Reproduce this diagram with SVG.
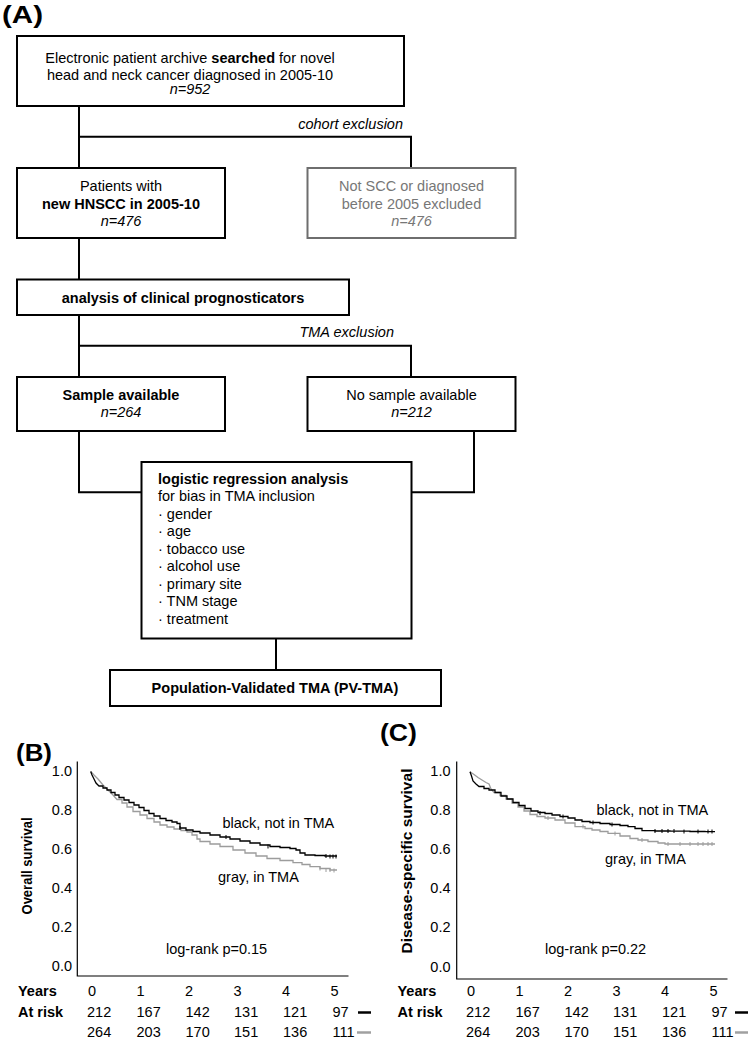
<svg xmlns="http://www.w3.org/2000/svg" width="749" height="1041" viewBox="0 0 749 1041">
<style>
text{font-family:"Liberation Sans",Arial,Helvetica,sans-serif;fill:#000}
.t{font-size:14.5px}
.c{text-anchor:middle}
.b{font-weight:bold}
.i{font-style:italic}
.g{fill:#777}
.box{fill:#fff;stroke:#000;stroke-width:2}
.gbox{fill:#fff;stroke:#6e6e6e;stroke-width:2}
.con{fill:none;stroke:#000;stroke-width:2}
.panel{font-size:24px;font-weight:bold}
.ax{fill:none;stroke:#000;stroke-width:1.2}
.tick{font-size:14.5px;text-anchor:end}
.num{font-size:14.5px}
.kb{fill:none;stroke:#000;stroke-width:1.3}
.kg{fill:none;stroke:#9c9c9c;stroke-width:1.3}
.cb{stroke:#000;stroke-width:1}
.cg{stroke:#9c9c9c;stroke-width:1}
</style>

<text x="2" y="23" class="panel" textLength="41" lengthAdjust="spacingAndGlyphs">(A)</text>

<g id="connectors">
  <path class="con" d="M79,106 V168 M79,136.7 H411 V168"/>
  <path class="con" d="M79,238 V279.5"/>
  <path class="con" d="M79,315 V377 M79,345.7 H411 V377"/>
  <path class="con" d="M79,431 V492.3 H141.5"/>
  <path class="con" d="M474,431 V492.3 H411.5"/>
  <path class="con" d="M276,638.5 V670"/>
  <text x="403" y="129" class="t i" text-anchor="end">cohort exclusion</text>
  <text x="394" y="337" class="t i" text-anchor="end">TMA exclusion</text>
</g>

<g id="node-archive">
  <rect class="box" x="17" y="36" width="387" height="70"/>
  <text x="190" y="62.5" class="t c">Electronic patient archive <tspan class="b">searched</tspan> for novel</text>
  <text x="190" y="79.5" class="t c">head and neck cancer diagnosed in 2005-10</text>
  <text x="190" y="94" class="t c i">n=952</text>
</g>

<g id="node-hnscc">
  <rect class="box" x="17" y="168" width="208" height="70"/>
  <text x="121" y="191" class="t c">Patients with</text>
  <text x="121" y="208.5" class="t c b">new HNSCC in 2005-10</text>
  <text x="121" y="226" class="t c i">n=476</text>
</g>

<g id="node-excluded">
  <rect class="gbox" x="307.5" y="168" width="208" height="70"/>
  <text x="411.5" y="191" class="t c g">Not SCC or diagnosed</text>
  <text x="411.5" y="208.5" class="t c g">before 2005 excluded</text>
  <text x="411.5" y="226" class="t c i g">n=476</text>
</g>

<g id="node-clinical">
  <rect class="box" x="17" y="279.5" width="332" height="35.5"/>
  <text x="183" y="302.5" class="t c b">analysis of clinical prognosticators</text>
</g>

<g id="node-sample">
  <rect class="box" x="17" y="377" width="208" height="54"/>
  <text x="121" y="399.5" class="t c b">Sample available</text>
  <text x="121" y="417" class="t c i">n=264</text>
</g>

<g id="node-nosample">
  <rect class="box" x="307.5" y="377" width="208" height="54"/>
  <text x="411.5" y="399.5" class="t c">No sample available</text>
  <text x="411.5" y="417" class="t c i">n=212</text>
</g>

<g id="node-logistic">
  <rect class="box" x="141.5" y="462" width="270" height="176.5"/>
  <text x="158" y="483.5" class="t b">logistic regression analysis</text>
  <text x="158" y="501" class="t">for bias in TMA inclusion</text>
  <text x="158" y="518.5" class="t">· gender</text>
  <text x="158" y="536" class="t">· age</text>
  <text x="158" y="553.5" class="t">· tobacco use</text>
  <text x="158" y="571" class="t">· alcohol use</text>
  <text x="158" y="588.5" class="t">· primary site</text>
  <text x="158" y="606" class="t">· TNM stage</text>
  <text x="158" y="623.5" class="t">· treatment</text>
</g>

<g id="node-pvtma">
  <rect class="box" x="110" y="670" width="331" height="36"/>
  <text x="275" y="693" class="t c b">Population-Validated TMA (PV-TMA)</text>
</g>

<g id="plotB">
  <text x="16" y="760.5" class="panel" textLength="36" lengthAdjust="spacingAndGlyphs">(B)</text>
  <path class="ax" d="M77.3,761.5 V976 H348.5"/>
  <text x="72" y="776" class="tick">1.0</text>
  <text x="72" y="815" class="tick">0.8</text>
  <text x="72" y="854" class="tick">0.6</text>
  <text x="72" y="893" class="tick">0.4</text>
  <text x="72" y="932" class="tick">0.2</text>
  <text x="72" y="971" class="tick">0.0</text>
  <text transform="translate(31.5,866) rotate(-90)" class="b c" font-size="14.5" textLength="97" lengthAdjust="spacingAndGlyphs">Overall survival</text>
  <path class="kg" d="M90.7,771.5 L94,775 L98,779 L103,785 L108,790 L113,795 L117,799.5 H122 V803 H127 V807 H133 V811.5 H140 V815 H147 V818.5 H154 V822 H160 V825 H167 V827 H174 V829 H181 V830.5 H187 V832 H192 V835 H197 V839 H200 V841.5 H210 V844 H220 V846.5 H233 V850 H245 V853 H256 V856 H267 V858.5 H280 V860.5 H293 V862.7 H302 V864.5 H310 V866.7 H320 V868.5 H330 V870 H337"/>
  <path class="kb" d="M90.7,771.5 L92,775 L94,779 L96,783 L99,786 H103 V788 H107 V790 H111 V792.5 H115 V795 H119 V797.5 H124 V800 H129 V802.5 H134 V805 H139 V807.5 H144 V810.5 H149 V813.5 H154 V816 H160 V818.5 H166 V820.5 H172 V822 H177 V823.5 H180 V828 H186 V830 H193 V831.5 H200 V833 H210 V835 H220 V837 H230 V839 H240 V841 H250 V843 H260 V845 H270 V846.5 H280 V847.5 H290 V848.5 H296 V850 H300 V853 H305 V855 H315 V855.5 H325 V856 H337"/>
  <path class="cb" d="M180,826 v4 M226,835 v4 M268,844.5 v4 M326,854 v4 M330,854.5 v4 M333,854.5 v4 M336,854.5 v4"/>
  <path class="cg" d="M320,866.5 v4 M326,868 v4 M330,868 v4 M334,868.5 v4"/>
  <text x="222.5" y="828" class="num">black, not in TMA</text>
  <text x="218" y="882" class="num">gray, in TMA</text>
  <text x="166" y="954" class="num">log-rank p=0.15</text>
  <text x="18" y="996" class="num b">Years</text>
  <text x="18" y="1016.5" class="num b">At risk</text>
  <g class="num">
    <text x="88" y="996" class="num">0</text>
    <text x="136.5" y="996" class="num">1</text>
    <text x="185" y="996" class="num">2</text>
    <text x="233.5" y="996" class="num">3</text>
    <text x="282" y="996" class="num">4</text>
    <text x="330.5" y="996" class="num">5</text>
    <text x="87" y="1016.5" class="num">212</text>
    <text x="136.5" y="1016.5" class="num">167</text>
    <text x="185.5" y="1016.5" class="num">142</text>
    <text x="234" y="1016.5" class="num">131</text>
    <text x="283" y="1016.5" class="num">121</text>
    <text x="332.5" y="1016.5" class="num">97</text>
    <text x="87" y="1036.5" class="num">264</text>
    <text x="136.5" y="1036.5" class="num">203</text>
    <text x="185.5" y="1036.5" class="num">170</text>
    <text x="234" y="1036.5" class="num">151</text>
    <text x="283" y="1036.5" class="num">136</text>
    <text x="332.5" y="1036.5" class="num">111</text>
  </g>
  <path d="M358,1012.5 H371" stroke="#000" stroke-width="2.5"/>
  <path d="M357,1032.5 H371" stroke="#a0a0a0" stroke-width="2.5"/>
</g>

<g id="plotC">
  <text x="380" y="740.5" class="panel" textLength="37" lengthAdjust="spacingAndGlyphs">(C)</text>
  <path class="ax" d="M456.7,761.5 V979 H727.5"/>
  <text x="450.5" y="776" class="tick">1.0</text>
  <text x="450.5" y="815" class="tick">0.8</text>
  <text x="450.5" y="854" class="tick">0.6</text>
  <text x="450.5" y="893" class="tick">0.4</text>
  <text x="450.5" y="932" class="tick">0.2</text>
  <text x="450.5" y="972" class="tick">0.0</text>
  <text transform="translate(411.5,861) rotate(-90)" class="b c" font-size="14.5" textLength="185" lengthAdjust="spacingAndGlyphs">Disease-specific survival</text>
  <path class="kg" d="M470,771.7 L474,774.5 L478,777.5 L482,780 L486,782.5 L489,784 L491,789 L494,792.5 H500 V795.5 H506 V799 H512 V803 H518 V807 H524 V811 H530 V814.5 H537 V816.5 H545 V818 H555 V820 H565 V823 H575 V826.7 H585 V828.5 H592 V830 H600 V831.5 H608 V833.3 H620 V836 H630 V838.5 H638 V840 H648 V841.5 H658 V843 H665 V844 H715"/>
  <path class="kb" d="M470,771.7 L471.5,776 L473,781 L476,784 L479,786.5 H484 V788.5 H489 V790 H495 V792.5 H501 V796 H507 V799 H513 V802.5 H519 V805.5 H525 V808.5 H531 V811 H538 V812.5 H545 V813.5 H552 V815 H560 V816.5 H568 V818 H575 V820 H582 V821.5 H590 V822.5 H600 V823.5 H610 V824.5 H620 V825.5 H628 V826.7 H635 V828.5 H642 V830.7 H655 V831 H670 V831.2 H690 V831.5 H705 V831.7 H715"/>
  <path class="cb" d="M540,811 v4 M563,814.5 v4 M593,820.5 v4 M612,822.5 v4 M655,829 v4 M662,829 v4 M668,829 v4 M674,829 v4 M684,829.5 v4 M698,829.5 v4 M708,829.5 v4 M712,829.5 v4"/>
  <path class="cg" d="M548,816 v4 M583,824.5 v4 M615,831.5 v4 M642,838 v4 M668,842 v4 M680,842 v4 M690,842 v4 M698,842 v4 M703,842 v4 M708,842 v4 M712,842 v4"/>
  <text x="596.5" y="815" class="num">black, not in TMA</text>
  <text x="605" y="863.5" class="num">gray, in TMA</text>
  <text x="545" y="954" class="num">log-rank p=0.22</text>
  <text x="397.5" y="996" class="num b">Years</text>
  <text x="397.5" y="1016.5" class="num b">At risk</text>
  <g class="num">
    <text x="467" y="996" class="num">0</text>
    <text x="515.5" y="996" class="num">1</text>
    <text x="564" y="996" class="num">2</text>
    <text x="612.5" y="996" class="num">3</text>
    <text x="661" y="996" class="num">4</text>
    <text x="709.5" y="996" class="num">5</text>
    <text x="466" y="1016.5" class="num">212</text>
    <text x="515.5" y="1016.5" class="num">167</text>
    <text x="564.5" y="1016.5" class="num">142</text>
    <text x="613" y="1016.5" class="num">131</text>
    <text x="662" y="1016.5" class="num">121</text>
    <text x="711.5" y="1016.5" class="num">97</text>
    <text x="466" y="1036.5" class="num">264</text>
    <text x="515.5" y="1036.5" class="num">203</text>
    <text x="564.5" y="1036.5" class="num">170</text>
    <text x="613" y="1036.5" class="num">151</text>
    <text x="662" y="1036.5" class="num">136</text>
    <text x="711.5" y="1036.5" class="num">111</text>
  </g>
  <path d="M735,1012.5 H748" stroke="#000" stroke-width="2.5"/>
  <path d="M735,1032.5 H748" stroke="#a0a0a0" stroke-width="2.5"/>
</g>
</svg>
